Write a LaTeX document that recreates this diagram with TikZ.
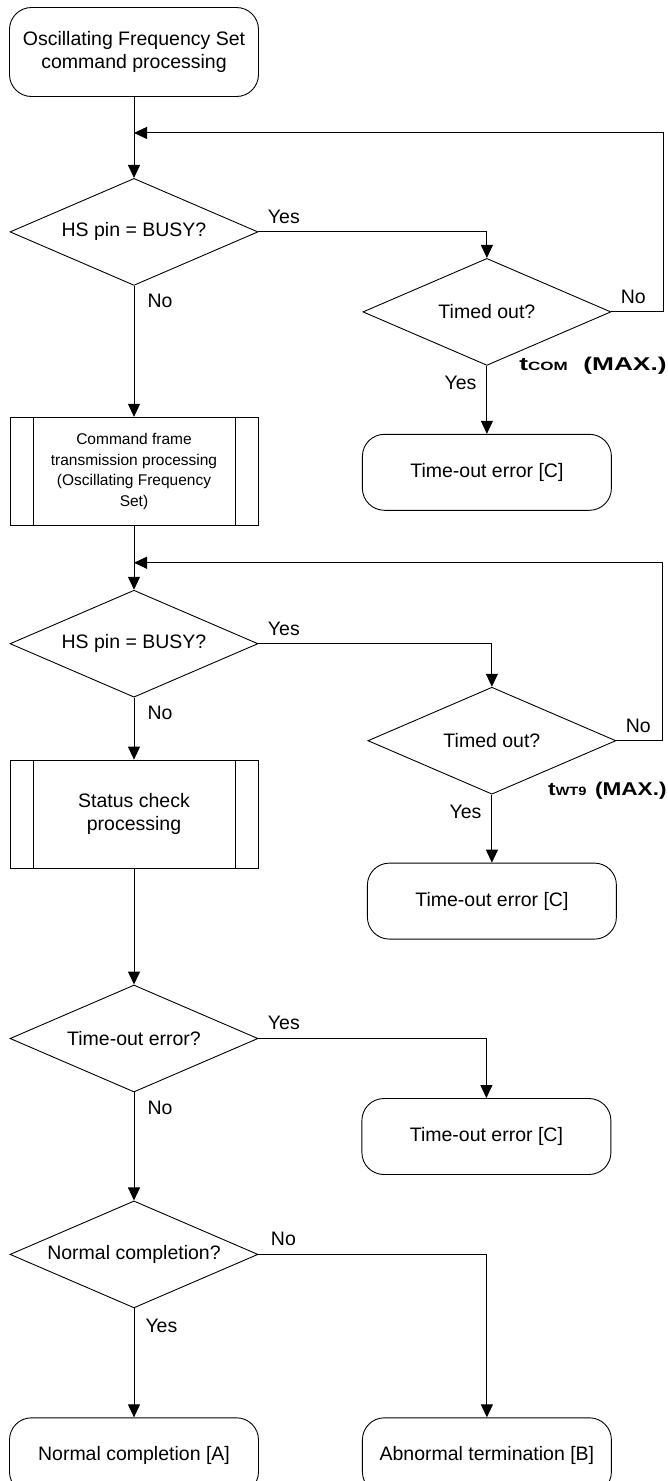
\documentclass[tikz,border=0pt]{standalone}
\usepackage{fontspec}
\setmainfont{Liberation Sans}
\usepackage{graphicx}
\usetikzlibrary{arrows.meta,positioning,shapes.geometric}
\newcommand\flowfont{\fontsize{19.5}{23}\selectfont}
\newcommand\subfont{\fontsize{15.5}{20.5}\selectfont}

\begin{document}
\begin{tikzpicture}[x=1pt,y=-1pt,line width=0.9pt,
  term/.style={draw,rounded corners=22pt,minimum width=249pt,minimum height=76pt,align=center,font=\flowfont,inner sep=2pt},
  dec/.style={draw,diamond,shape aspect=2.32,minimum width=248pt,minimum height=107pt,inner sep=1pt,align=center,font=\flowfont},
  subproc/.style={draw,minimum width=248pt,minimum height=108pt,align=center,font=\subfont,inner sep=2pt,
    path picture={\draw ([xshift=23pt]path picture bounding box.north west) -- ([xshift=23pt]path picture bounding box.south west);
      \draw ([xshift=-23pt]path picture bounding box.north east) -- ([xshift=-23pt]path picture bounding box.south east);}},
  lab/.style={font=\flowfont,inner xsep=9pt,inner ysep=8pt},
  tim/.style={font={\fontsize{18.5}{20}\selectfont\bfseries},inner sep=0pt,anchor=east},
  arr/.style={-{Triangle[length=13pt,width=12pt]},line width=1pt}
]
\useasboundingbox (0,0) rectangle (668,1481);
\node[term,minimum height=89pt] (start) at (134,52) {Oscillating Frequency Set\\command processing};
\coordinate[below=36pt of start] (join1);
\node[dec,below=81pt of start] (busy1) {HS pin = BUSY?};
\node[dec,right=104pt of busy1,yshift=-80pt] (timed1) {Timed out?};
\node[term,below=68pt of timed1] (err1) {Time-out error [C]};
\node[tim] (tcom) at (667,366) {\scalebox{1.42}[1]{t{\fontsize{12}{12}\selectfont COM}\hspace{11pt}(MAX.)}};
\node[subproc,below=131pt of busy1] (cmd) {Command frame\\transmission processing\\(Oscillating Frequency\\Set)};
\coordinate[below=37pt of cmd] (join2);
\node[dec,below=64pt of cmd] (busy2) {HS pin = BUSY?};
\node[dec,right=109pt of busy2,yshift=-97pt] (timed2) {Timed out?};
\node[term,below=68pt of timed2] (err2) {Time-out error [C]};
\node[tim] (twt) at (667,791) {\scalebox{1.22}[1]{t{\fontsize{12}{12}\selectfont WT9}\hspace{7pt}(MAX.)}};
\node[subproc,below=62pt of busy2,font=\flowfont] (stat) {Status check\\processing};
\node[dec,below=116pt of stat] (tout) {Time-out error?};
\node[term,right=103pt of tout,yshift=-98pt] (err3) {Time-out error [C]};
\node[dec,below=108pt of tout] (norm) {Normal completion?};
\node[term,below=109pt of norm] (okA) {Normal completion [A]};
\node[term,right=103pt of okA] (errB) {Abnormal termination [B]};

\draw[arr] (start) -- (busy1);
\draw[arr] (busy1.east) node[lab,anchor=south west]{Yes} -| (timed1.north);
\draw[arr] (timed1.east) node[lab,anchor=south west]{No} -- ++(52,0) |- (join1);
\draw[arr] (timed1.south) node[lab,anchor=north east,inner xsep=10pt,inner ysep=10pt]{Yes} -- (err1);
\draw[arr] (busy1.south) node[lab,anchor=north west,inner xsep=13pt]{No} -- (cmd);
\draw[arr] (cmd) -- (busy2);
\draw[arr] (busy2.east) node[lab,anchor=south west]{Yes} -| (timed2.north);
\draw[arr] (timed2.east) node[lab,anchor=south west]{No} -- ++(46,0) |- (join2);
\draw[arr] (timed2.south) node[lab,anchor=north east,inner xsep=10pt,inner ysep=10pt]{Yes} -- (err2);
\draw[arr] (busy2.south) node[lab,anchor=north west,inner xsep=13pt]{No} -- (stat);
\draw[arr] (stat) -- (tout);
\draw[arr] (tout.east) node[lab,anchor=south west]{Yes} -| (err3.north);
\draw[arr] (tout.south) node[lab,anchor=north west,inner xsep=13pt]{No} -- (norm);
\draw[arr] (norm.south) node[lab,anchor=north west,inner xsep=11pt,inner ysep=10pt]{Yes} -- (okA);
\draw[arr] (norm.east) node[lab,anchor=south west,inner xsep=12pt]{No} -| (errB.north);
\end{tikzpicture}
\end{document}
